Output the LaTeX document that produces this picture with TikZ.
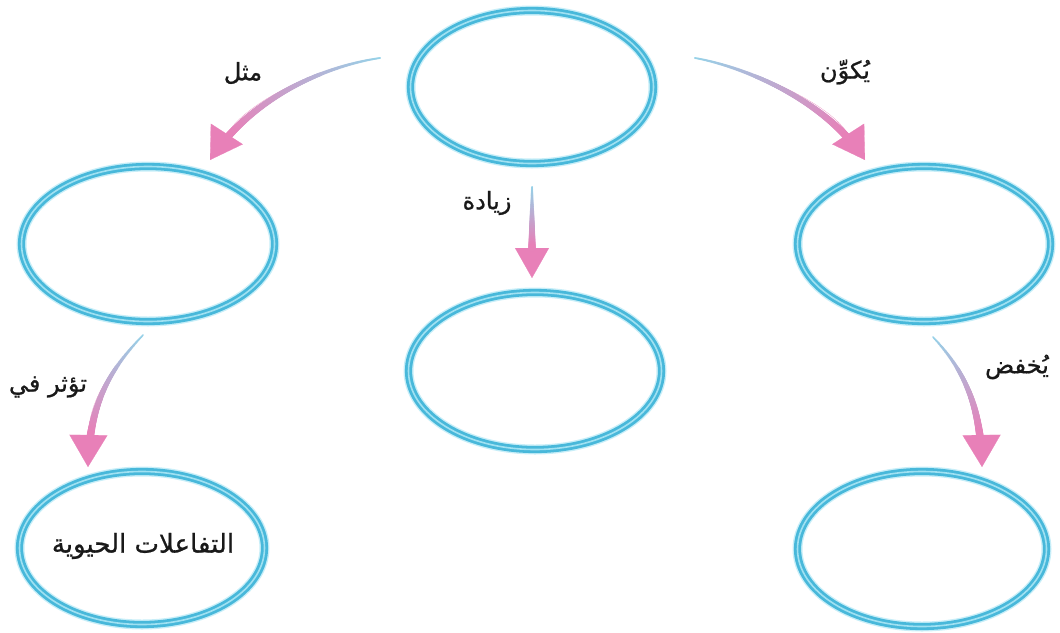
\documentclass[tikz,border=0pt]{standalone}
\usepackage{fontspec}
\usetikzlibrary{shapes.geometric,decorations.markings,arrows.meta}
\newfontfamily\arabicfont[Script=Arabic,FakeBold=0.9]{DejaVu Sans}
\TeXXeTstate=1
\definecolor{ringcol}{RGB}{72,184,218}
\definecolor{ringin}{RGB}{160,225,242}
\definecolor{ringglow}{RGB}{200,238,248}
\definecolor{arrblue}{RGB}{150,210,232}
\definecolor{arrpink}{RGB}{232,128,184}
\tikzset{
  bubble/.style={ellipse, inner sep=0pt, outer sep=0pt,
    draw=ringcol, line width=2.8pt, double=ringin, double distance=1.6pt,
    preaction={draw=ringglow, line width=10pt}},
  lbl/.style={font=\arabicfont\fontsize{24}{27}\selectfont, inner sep=0pt, text=black!90},
  txt/.style={font=\arabicfont\fontsize{26}{29}\selectfont, inner sep=0pt, text=black!90},
  garrow/.style 2 args={draw=arrpink, line width=0.2pt,
    -{Triangle[length=#1pt, width=#2pt, fill=arrpink]},
    postaction={decorate}, decoration={markings,
    mark=between positions 0 and -#1pt step 0.7pt with {
      \pgfmathsetmacro\gratio{\pgfkeysvalueof{/pgf/decoration/mark info/distance from start}/(\pgfdecoratedpathlength-#1)}
      \pgfmathtruncatemacro\gpct{min(100,100*\gratio)}
      \pgfmathsetmacro\grad{1+2.8*\gpct/100}
      \fill[arrpink!\gpct!arrblue] (0pt,0pt) circle[radius=\grad pt];
    }}}
}
\begin{document}
\begin{tikzpicture}[x=1pt,y=-1pt]
\useasboundingbox (0,0) rectangle (1060,632);
% nodes
\node[bubble, minimum width=243pt, minimum height=153pt] (top) at (532,87) {};
\node[bubble, minimum width=253pt, minimum height=155pt] (L) at (148,244) {};
\node[bubble, minimum width=253pt, minimum height=155pt] (R) at (924,244) {};
\node[bubble, minimum width=253pt, minimum height=157pt] (C) at (535,371) {};
\node[bubble, minimum width=245pt, minimum height=153pt] (BL) at (142,548) {};
\node[bubble, minimum width=249pt, minimum height=155pt] (BR) at (922,549) {};
\node[txt] (bltext) at (143,546) {\beginR التفاعلات الحيوية\endR};
% arrow end points
\coordinate (a1s) at (380,58);  \coordinate (a1t) at (210,160);
\coordinate (a2s) at (695,58);  \coordinate (a2t) at (865,160);
\coordinate (a3s) at (532,187); \coordinate (a3t) at (532,278);
\coordinate (a4s) at (143,335); \coordinate (a4t) at (88,467);
\coordinate (a5s) at (933,337); \coordinate (a5t) at (982,467);
% connectors
\path[garrow={31}{38}] (a1s) .. controls (325,66) and (250,98) .. (a1t);
\path[garrow={31}{38}] (a2s) .. controls (740,66) and (825,98) .. (a2t);
\path[garrow={30}{34}] (a3s) -- (a3t);
\path[garrow={32}{38}] (a4s) .. controls (118,362) and (89,395) .. (a4t);
\path[garrow={32}{38}] (a5s) .. controls (956,362) and (981,395) .. (a5t);
% labels
\node[lbl] (l1) at (243,73) {\beginR مثل\endR};
\node[lbl] (l2) at (845,72) {\beginR يُكوِّن\endR};
\node[lbl] (l3) at (487,203) {\beginR زيادة\endR};
\node[lbl] (l4) at (48,387) {\beginR تؤثر في\endR};
\node[lbl] (l5) at (1017,367) {\beginR يُخفض\endR};
\end{tikzpicture}
\end{document}
